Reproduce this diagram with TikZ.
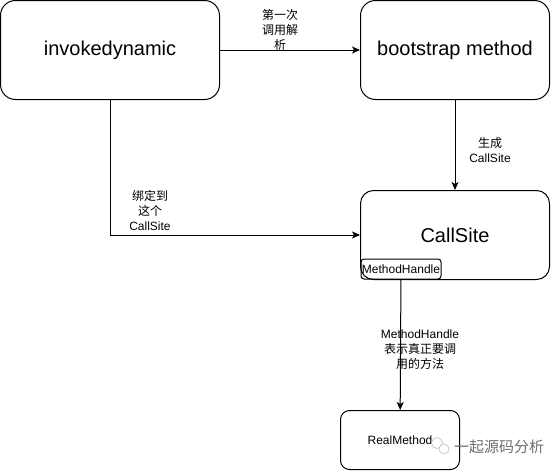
\documentclass[tikz,border=0pt]{standalone}
\usepackage{fontspec}
\setmainfont{Liberation Sans}
\newfontfamily\cjk{Noto Sans CJK SC}
\usetikzlibrary{arrows.meta}
\definecolor{markgray}{RGB}{110,110,110}
\definecolor{icongray}{RGB}{190,190,190}
\tikzset{
    box/.style={draw, line width=1pt, rounded corners=#1, inner sep=0pt, align=center},
    big/.style={font=\fontsize{20}{24}\selectfont},
    lbl/.style={align=center, inner sep=0pt, font=\fontsize{12}{15}\selectfont},
    arr/.style={line width=1pt, -{Stealth[length=8pt,width=7pt,inset=2pt]}},
}
\begin{document}
\begin{tikzpicture}[x=1pt, y=-1pt]
    \useasboundingbox (0,0) rectangle (551,471);
    % 畫出方框
    \node[box=15pt, big, minimum width=219pt, minimum height=99pt] (invoke) at (110,50) {invokedynamic};
    \node[box=15pt, big, minimum width=189pt, minimum height=99pt] (boot) at (455,50) {bootstrap method};
    \node[box=13pt, big, minimum width=189pt, minimum height=89pt] (callsite) at (455,235) {CallSite};
    \node[box=3pt, lbl, minimum width=80pt, minimum height=20pt, anchor=south west] (mh) at (360.5,279.5) {MethodHandle};
    \node[box=9pt, lbl, minimum width=119pt, minimum height=59pt] (real) at (400,440) {RealMethod};
    \coordinate (corner) at (invoke.south |- callsite.west);

    % 畫出邊
    \draw[arr] (invoke) -- (boot);
    \draw[arr] (boot) -- (callsite);
    \draw[arr] (invoke) -- (corner) -- (callsite);
    \draw[arr] (mh) -- (real);

    % 邊上的文字
    \node[lbl] (l1) at (280,30) {\cjk 第一次\\\cjk 调用解\\\cjk 析};
    \node[lbl] (l2) at (490,150) {\cjk 生成\\CallSite};
    \node[lbl] (l3) at (150,210) {\cjk 绑定到\\\cjk 这个\\CallSite};
    \node[lbl] (l4) at (420,350) {MethodHandle\\\cjk 表示真正要调\\\cjk 用的方法};

    % 水印
    \draw[icongray, line width=0.6pt, fill=white] (437,443) circle (5.5pt);
    \draw[icongray, line width=0.6pt, fill=white] (444,449) circle (5pt);
    \node[lbl, text=markgray, font=\cjk\fontsize{15}{18}\selectfont] (mark) at (499,447) {一起源码分析};
\end{tikzpicture}
\end{document}
